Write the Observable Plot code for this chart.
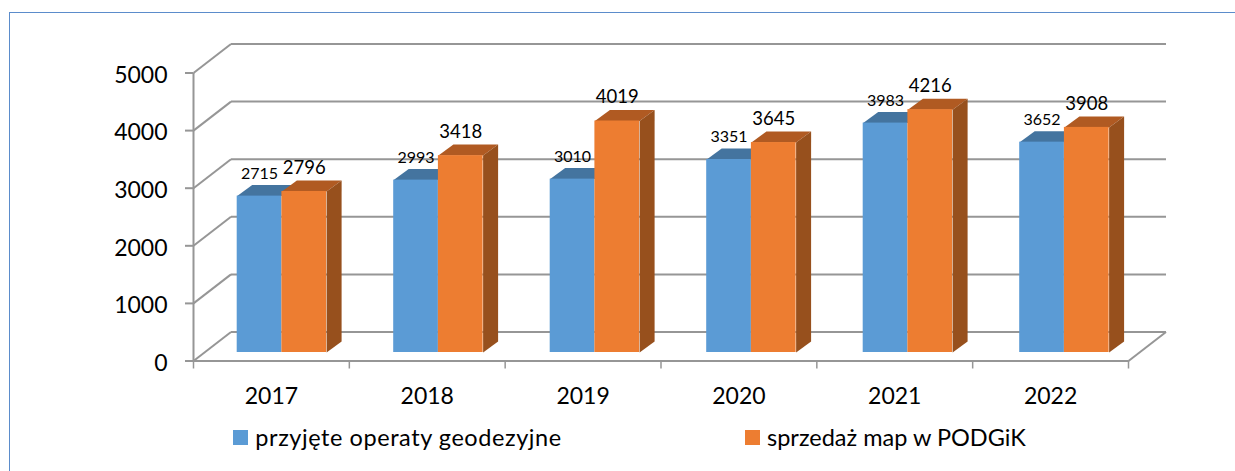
<!DOCTYPE html>
<html lang="pl">
<head>
<meta charset="utf-8">
<script src="https://cdn.jsdelivr.net/npm/d3@7"></script>
<script src="https://cdn.jsdelivr.net/npm/@observablehq/plot@0.6"></script>
<style>
  html, body { margin: 0; padding: 0; background: #fff; overflow: hidden; }
  body { width: 1235px; height: 471px; position: relative; font-family: Lato, sans-serif; color: #000; }
  #frame { position: absolute; left: 8.5px; top: 12px; right: -5px; bottom: -5px; border: 1.5px solid #5b8ccb; box-sizing: border-box; }
  #chart { position: absolute; left: 0; top: 0; }
  #chart svg { display: block; background: transparent; }
  #legend { position: absolute; left: 0; top: 420px; width: 1235px; height: 40px; font-size: 23.5px; line-height: 35px; }
  .item { position: absolute; top: 0; display: flex; align-items: center; white-space: nowrap; }
  .swatch { width: 15px; height: 15px; display: inline-block; }
  .label { margin-left: 7px; }
</style>
</head>
<body>
<div id="frame"></div>
<div id="chart"></div>
<div id="legend"></div>
<script>
const years = ["2017", "2018", "2019", "2020", "2021", "2022"];
const operaty = [2715, 2993, 3010, 3351, 3983, 3652];
const mapy = [2796, 3418, 4019, 3645, 4216, 3908];
const yTicks = [0, 1000, 2000, 3000, 4000, 5000];
const seriesNames = ["przyjęte operaty geodezyjne", "sprzedaż map w PODGiK"];

const BLUE = "#5b9bd5", BLUE_TOP = "#44749f", ORANGE = "#ed7d31", ORANGE_TOP = "#b05a22", ORANGE_SIDE = "#97501d", GRID = "#969696";

// Oblique projection expressed in data units of the two linear scales
const uX = 6 / 935, uY = 5000 / 288;           // data units per pixel
const wallX = 37.5 * uX, wallY = 29 * uY;      // offset of the back wall
const barFrontY = 8.5 * uY;                    // lift of the bars' front face
const gapLeft = 43.7 * uX, step = 156.5 * 6 / 935, barW = 44.7 * uX;
const sideX = 15 * uX, sideY = 11 * uY;

const left = i => gapLeft + i * step;
const faces = [];
function bars(values, offset, series) {
  values.forEach((v, i) => {
    const x0 = left(i) + offset * barW, x1 = x0 + barW;
    const top = v + barFrontY, base = barFrontY;
    [[x0, top], [x0 + sideX, top + sideY], [x1 + sideX, top + sideY], [x1, top]]
      .forEach(([x, y]) => faces.push({id: series + i + "t", kind: series + "top", x, y}));
    [[x1, base], [x1 + sideX, base + sideY], [x1 + sideX, top + sideY], [x1, top]]
      .forEach(([x, y]) => faces.push({id: series + i + "s", kind: series + "side", x, y}));
  });
}
bars(operaty, 0, "a");
bars(mapy, 1, "b");

const fronts = (values, offset) => values.map((v, i) => ({
  x1: left(i) + offset * barW, x2: left(i) + (offset + 1) * barW, y1: barFrontY, y2: v + barFrontY
}));
const labels = (values, offset) => values.map((v, i) => ({
  x: left(i) + (offset + 0.5) * barW, y: v + barFrontY, t: String(v)
}));
const face = kind => faces.filter(d => d.kind === kind);
const poly = (kind, fill) => Plot.line(face(kind), {x: "x", y: "y", z: "id", fill, stroke: "none", curve: "linear-closed"});

const wall = yTicks.map(v => ({v}));
const gridStyle = {stroke: GRID, strokeWidth: 2};

const plot = Plot.plot({
  width: 1235, height: 420,
  marginLeft: 193, marginRight: 107, marginTop: 72.5, marginBottom: 59.5,
  style: {fontFamily: "Lato, sans-serif", color: "#000", background: "transparent", overflow: "visible"},
  x: {domain: [0, 6]},
  y: {domain: [0, 5000]},
  marks: [
    // back wall and left wall gridlines
    Plot.link(wall, {x1: wallX, x2: 6 + wallX, y1: d => d.v + wallY, y2: d => d.v + wallY, ...gridStyle}),
    Plot.link(wall, {x1: 0, x2: wallX, y1: d => d.v, y2: d => d.v + wallY, ...gridStyle}),
    // floor front and right edge
    Plot.link([0], {x1: 0, x2: 6, y1: 0, y2: 0, ...gridStyle}),
    Plot.link([0], {x1: 6, x2: 6 + wallX, y1: 0, y2: wallY, ...gridStyle}),
    Plot.link([0], {x1: 0, x2: 0, y1: 0, y2: 5000, ...gridStyle}),
    // axes
    Plot.axisY({ticks: yTicks, tickSize: 8, stroke: GRID, strokeWidth: 2, text: null}),
    Plot.axisY({ticks: yTicks, tickSize: 0, tickPadding: 26, dy: 2.5, fontSize: 23, fill: "#000", tickFormat: d => String(d)}),
    Plot.axisX({ticks: d3.range(7), tickSize: 8, stroke: GRID, strokeWidth: 1.5, text: null}),
    Plot.axisX({ticks: years.map((_, i) => i + 0.5), tickSize: 0, tickPadding: 26.5, fontSize: 23, fill: "#000", tickFormat: d => years[d - 0.5]}),
    // bars
    poly("atop", BLUE_TOP),
    Plot.rect(fronts(operaty, 0), {x1: "x1", x2: "x2", y1: "y1", y2: "y2", fill: BLUE}),
    poly("btop", ORANGE_TOP),
    poly("bside", ORANGE_SIDE),
    Plot.rect(fronts(mapy, 1), {x1: "x1", x2: "x2", y1: "y1", y2: "y2", fill: ORANGE}),
    // value labels
    Plot.text(labels(operaty, 0), {x: "x", y: "y", text: "t", dy: -22.6, fontSize: 16, fill: "#000"}),
    Plot.text(labels(mapy, 1), {x: "x", y: "y", text: "t", dy: -23.5, fontSize: 18.5, fill: "#000"})
  ]
});
document.getElementById("chart").append(plot);

const legend = document.getElementById("legend");
[[233.3, BLUE, "0.56px"], [745, ORANGE, "0"]].forEach(([x, color, spacing], i) => {
  const item = document.createElement("div");
  item.className = "item";
  item.style.left = x + "px";
  const sw = document.createElement("span");
  sw.className = "swatch";
  sw.style.background = color;
  const label = document.createElement("span");
  label.className = "label";
  label.style.letterSpacing = spacing;
  label.textContent = seriesNames[i];
  item.append(sw, label);
  legend.append(item);
});
</script>
</body>
</html>
